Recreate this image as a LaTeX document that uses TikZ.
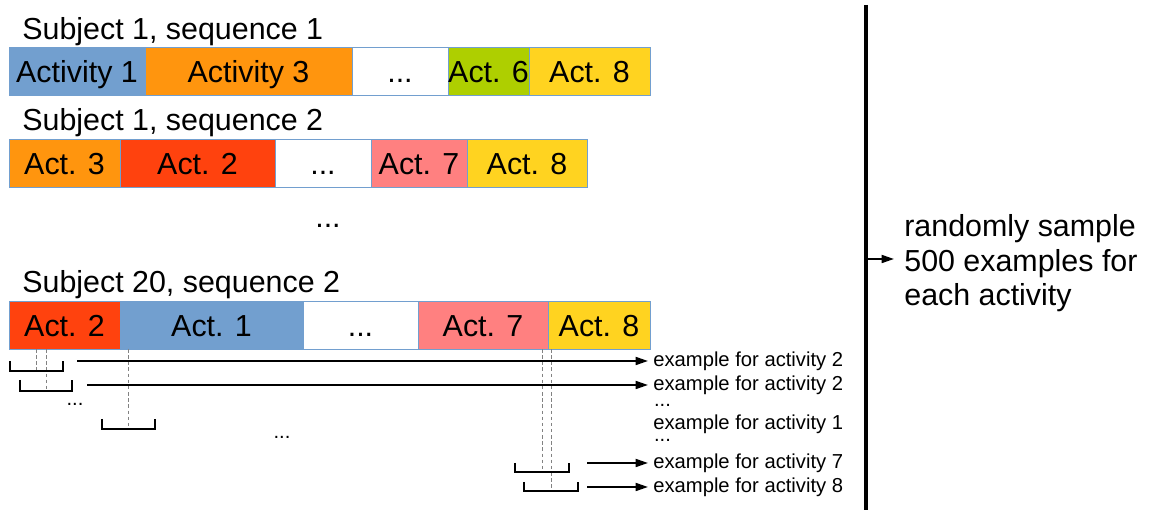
\documentclass[tikz,border=0pt]{standalone}
\usepackage{fontspec}
\setmainfont{Liberation Sans}
\usetikzlibrary{arrows.meta,positioning}
\definecolor{actblue}{RGB}{114,159,207}
\definecolor{actorange}{RGB}{255,149,14}
\definecolor{actgreen}{RGB}{174,207,0}
\definecolor{actyellow}{RGB}{255,211,32}
\definecolor{actred}{RGB}{255,66,14}
\definecolor{actpink}{RGB}{255,128,128}
\definecolor{seqline}{RGB}{114,159,207}
\definecolor{centregray}{RGB}{130,130,130}

\begin{document}
\begin{tikzpicture}[
  seg/.style={draw=seqline, line width=0.5pt, minimum height=0.96cm, inner sep=0pt,
              outer sep=0pt, anchor=west, text height=12.6pt, text depth=0pt,
              font=\fontsize{17.3pt}{20pt}\selectfont},
  seqlabel/.style={anchor=base west, inner sep=0pt, font=\fontsize{17.3pt}{20pt}\selectfont},
  exnode/.style={anchor=west, inner xsep=0.1cm, inner ysep=0pt,
                 font=\fontsize{11.5pt}{13.5pt}\selectfont},
  dots/.style={anchor=base, inner sep=0pt, font=\fontsize{11.5pt}{13.5pt}\selectfont},
  arr/.style={-{Stealth[length=7pt, width=4.5pt, inset=0pt]}, line width=1.1pt},
  window/.style={line width=1.1pt},
  centre/.style={centregray, dash pattern=on 2pt off 1.5pt, line width=0.5pt}
]
\useasboundingbox (0,0) rectangle (23.08,-10.2);

%% Sequence 1
\node[seqlabel] (lab1) at (0.44,-0.79) {Subject 1, sequence 1};
\node[seg, fill=actblue,   minimum width=2.72cm] (r1a) at (0.18,-1.42) {Activity 1};
\node[seg, fill=actorange, minimum width=4.14cm, right=0pt of r1a] (r1b) {Activity 3};
\node[seg, fill=white,     minimum width=1.92cm, right=0pt of r1b] (r1c) {...};
\node[seg, fill=actgreen,  minimum width=1.62cm, right=0pt of r1c] (r1d) {Act. 6};
\node[seg, fill=actyellow, minimum width=2.42cm, right=0pt of r1d] (r1e) {Act. 8};

%% Sequence 2
\node[seqlabel] (lab2) at (0.44,-2.62) {Subject 1, sequence 2};
\node[seg, fill=actorange, minimum width=2.22cm] (r2a) at (0.18,-3.26) {Act. 3};
\node[seg, fill=actred,    minimum width=3.10cm, right=0pt of r2a] (r2b) {Act. 2};
\node[seg, fill=white,     minimum width=1.92cm, right=0pt of r2b] (r2c) {...};
\node[seg, fill=actpink,   minimum width=1.92cm, right=0pt of r2c] (r2d) {Act. 7};
\node[seg, fill=actyellow, minimum width=2.40cm, right=0pt of r2d] (r2e) {Act. 8};

\node[seqlabel, anchor=base] (rowdots) at (6.56,-4.56) {...};

%% Sequence 20
\node[seqlabel] (lab3) at (0.44,-5.86) {Subject 20, sequence 2};
\node[seg, fill=actred,    minimum width=2.22cm] (r3a) at (0.18,-6.50) {Act. 2};
\node[seg, fill=actblue,   minimum width=3.66cm, right=0pt of r3a] (r3b) {Act. 1};
\node[seg, fill=white,     minimum width=2.30cm, right=0pt of r3b] (r3c) {...};
\node[seg, fill=actpink,   minimum width=2.60cm, right=0pt of r3c] (r3d) {Act. 7};
\node[seg, fill=actyellow, minimum width=2.04cm, right=0pt of r3d] (r3e) {Act. 8};

%% Examples
\node[exnode] (ex1) at (12.96,-7.22) {example for activity 2};
\node[exnode] (ex2) at (12.96,-7.70) {example for activity 2};
\node[exnode] (ex3) at (12.96,-8.48) {example for activity 1};
\node[exnode] (ex4) at (12.96,-9.26) {example for activity 7};
\node[exnode] (ex5) at (12.96,-9.74) {example for activity 8};
\node[dots] (exdots1) at (13.25,-8.13) {...};
\node[dots] (exdots2) at (13.25,-8.83) {...};
\node[dots] (windots1) at (1.50,-8.11) {...};
\node[dots] (windots2) at (5.64,-8.77) {...};

%% Windows
\draw[centre] (0.73,-6.98) -- (0.73,-7.42);
\draw[centre] (0.92,-6.98) -- (0.92,-7.82);
\draw[centre] (2.57,-6.98) -- (2.57,-8.58);
\draw[centre] (10.84,-6.98) -- (10.84,-9.44);
\draw[centre] (11.02,-6.98) -- (11.02,-9.82);
\draw[window] (0.20,-7.22) |- (1.26,-7.42) -- (1.26,-7.22);
\draw[window] (0.40,-7.60) |- (1.44,-7.82) -- (1.44,-7.60);
\draw[window] (2.04,-8.38) |- (3.10,-8.58) -- (3.10,-8.38);
\draw[window] (10.30,-9.26) |- (11.38,-9.44) -- (11.38,-9.26);
\draw[window] (10.48,-9.64) |- (11.56,-9.82) -- (11.56,-9.64);

\coordinate (s1) at (1.54,-7.22);
\coordinate (s2) at (1.74,-7.70);
\coordinate (s4) at (11.74,-9.26);
\coordinate (s5) at (11.74,-9.74);
\draw[arr] (s1) -- (ex1.west);
\draw[arr] (s2) -- (ex2.west);
\draw[arr] (s4) -- (ex4.west);
\draw[arr] (s5) -- (ex5.west);

%% Sampling
\coordinate (bartop) at (17.32,-0.1);
\coordinate (barbot) at (17.32,-10.2);
\coordinate (split)  at (17.32,-5.18);
\draw[line width=2.3pt] (bartop) -- (barbot);
\node[anchor=west, inner sep=0.2cm, align=left, font=\fontsize{17.3pt}{19.6pt}\selectfont]
  (sample) at (17.88,-5.27) {randomly sample\\500 examples for\\each activity};
\draw[arr] (split) -- (sample.west |- split);

\end{tikzpicture}
\end{document}
